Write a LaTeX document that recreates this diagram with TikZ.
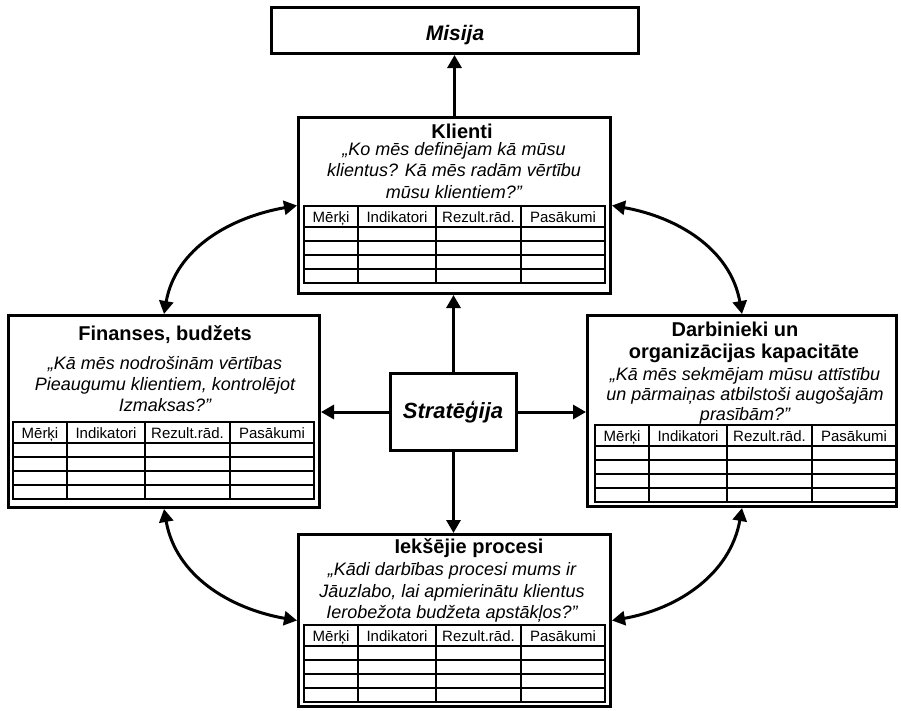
\documentclass[tikz,border=0pt]{standalone}
\usepackage{fontspec}
\setmainfont{Liberation Sans}
\usetikzlibrary{arrows.meta}

% #1 name prefix, #2 x, #3 y (top-left), #4 offset of the thicker row line
\newcommand\kptable[4]{%
  \begin{scope}[shift={(#2,#3)}]
    \foreach \kpx in {54,132,217} \draw[tline] (\kpx,0) -- (\kpx,77);
    \foreach \kpy in {21,35,49,63} \draw[tline] (0,\kpy) -- (301,\kpy);
    \draw[line width=2.2pt] (0,#4) -- (301,#4);
    \draw[line width=1.8pt] (0,0) rectangle (301,77);
    \node[hdr] (#1a) at (27,16.5) {Mērķi};
    \node[hdr] (#1b) at (93,16.5) {Indikatori};
    \node[hdr] (#1c) at (174.5,16.5) {Rezult.rād.};
    \node[hdr] (#1d) at (259,16.5) {Pasākumi};
  \end{scope}}

\begin{document}
\begin{tikzpicture}[x=1pt,y=-1pt,
  box/.style={draw, line width=3pt, fill=white, inner sep=0pt},
  ttl/.style={font=\fontsize{20}{24}\selectfont\bfseries, anchor=base, inner sep=0pt},
  quest/.style={font=\fontsize{18}{21}\selectfont\itshape, anchor=base, inner sep=0pt},
  hdr/.style={font=\fontsize{15}{18}\selectfont, anchor=base, inner sep=0pt},
  big/.style={font=\fontsize{#1}{#1}\selectfont\bfseries\itshape, anchor=base, inner sep=0pt},
  tline/.style={line width=1.3pt},
  tip/.tip={Triangle[length=13pt,width=14pt]},
  conn/.style={line width=3pt, -tip},
  dconn/.style={line width=3pt, tip-tip},
]
\useasboundingbox (0,0) rectangle (901,710);
\fill[white] (0,0) rectangle (901,710);

% boxes
\node[box, minimum width=367pt, minimum height=46pt]  (misija)   at (455,30.5)   {};
\node[box, minimum width=312pt, minimum height=176pt] (klienti)  at (454.5,205.5) {};
\node[box, minimum width=311pt, minimum height=192pt] (finanses) at (164,411.5)  {};
\node[box, minimum width=309pt, minimum height=191pt] (darb)     at (742,411)    {};
\node[box, minimum width=312pt, minimum height=172pt] (iek)      at (454.5,620.5) {};
\node[box, minimum width=126pt, minimum height=77pt]  (strat)    at (453.5,412)  {};

% Misija, Strategija
\node[big=21] (mtxt) at (455,40) {Misija};
\node[big=22] (stxt) at (453,418) {Stratēģija};

% Klienti
\node[ttl] (kt) at (462,138) {Klienti};
\node[quest] (kq1) at (454,155) {„Ko mēs definējam kā mūsu};
\node[quest] (kq2) at (454,176.5) {klientus? Kā mēs radām vērtību};
\node[quest] (kq3) at (454,198) {mūsu klientiem?”};
\kptable{kt}{304}{206}{49}

% Finanses
\node[ttl] (ft) at (165,340) {Finanses, budžets};
\node[quest] (fq1) at (165,369) {„Kā mēs nodrošinām vērtības};
\node[quest] (fq2) at (165,390) {Pieaugumu klientiem, kontrolējot};
\node[quest] (fq3) at (165,411) {Izmaksas?”};
\kptable{ftb}{13}{422}{35}

% Darbinieki
\node[ttl] (dt1) at (735,336) {Darbinieki un};
\node[ttl] (dt2) at (744,358) {organizācijas kapacitāte};
\node[quest] (dq1) at (745,380) {„Kā mēs sekmējam mūsu attīstību};
\node[quest] (dq2) at (745,400) {un pārmaiņas atbilstoši augošajām};
\node[quest] (dq3) at (745,420) {prasībām?”};
\kptable{dtb}{595}{425}{49}

% Iekšējie procesi
\node[ttl] (it) at (469,553) {Iekšējie procesi};
\node[quest] (iq1) at (452,575) {„Kādi darbības procesi mums ir};
\node[quest] (iq2) at (452,597) {Jāuzlabo, lai apmierinātu klientus};
\node[quest] (iq3) at (452,618) {Ierobežota budžeta apstākļos?”};
\kptable{itb}{304}{625}{35}

% straight connectors
\draw[conn] (klienti.north) -- (klienti.north |- misija.south);
\draw[conn] (strat.north) -- (strat.north |- klienti.south);
\draw[conn] (strat.south) -- (strat.south |- iek.north);
\draw[conn] (strat.west) -- (strat.west -| finanses.east);
\draw[conn] (strat.east) -- (strat.east -| darb.west);

% curved connectors
\draw[dconn] (klienti.west) to[out=190,in=80] (finanses.north);
\draw[dconn] (klienti.east) to[out=-10,in=100] (darb.north);
\draw[dconn] (finanses.south) to[out=-80,in=170] (iek.west);
\draw[dconn] (iek.east) to[out=10,in=-100] (darb.south);
\end{tikzpicture}
\end{document}
